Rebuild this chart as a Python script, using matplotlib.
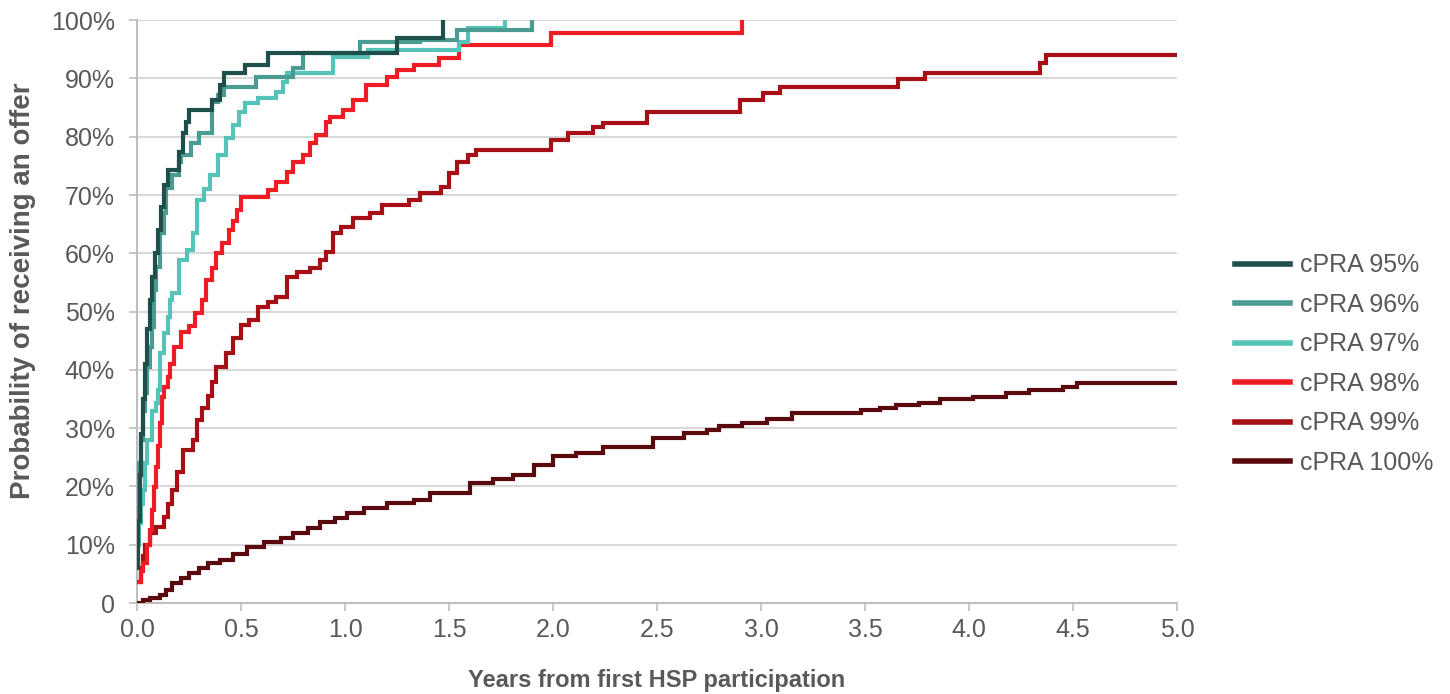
import matplotlib
matplotlib.use("Agg")
import matplotlib.pyplot as plt
from matplotlib.ticker import FixedLocator

plt.rcParams['font.family'] = ['Liberation Sans', 'DejaVu Sans']

# step breakpoints (years, % offered)
cpra95_t = [0, 0.005, 0.012, 0.02, 0.03, 0.04, 0.05, 0.06, 0.07, 0.085, 0.1, 0.115,
            0.13, 0.15, 0.2, 0.22, 0.235, 0.25, 0.36, 0.40, 0.42, 0.52, 0.63, 1.25, 1.47]
cpra95_p = [6, 14, 22, 29, 35, 41, 47, 52, 56, 60, 64, 68,
            71.7, 74.3, 77.4, 80.6, 82.5, 84.6, 86.3, 88.9, 90.9, 92.3, 94.3, 97.0, 100]

cpra96_t = [0, 0.005, 0.01, 0.02, 0.03, 0.04, 0.05, 0.06, 0.07, 0.08, 0.09, 0.11, 0.13,
            0.14, 0.17, 0.2, 0.21, 0.26, 0.3, 0.36, 0.39, 0.42, 0.57, 0.75, 0.8, 1.07,
            1.36, 1.54, 1.9]
cpra96_p = [10, 18, 24, 28, 33, 36, 40.5, 44, 47.3, 53.7, 57.6, 63.5, 66.9,
            71.2, 73.4, 75.6, 76.8, 78.9, 80.6, 85.9, 87.1, 88.5, 90.2, 91.8, 94.3, 96.2,
            96.6, 98.3, 100]

cpra97_t = [0, 0.005, 0.01, 0.02, 0.03, 0.04, 0.05, 0.07, 0.09, 0.1, 0.11, 0.13, 0.15,
            0.16, 0.17, 0.2, 0.24, 0.27, 0.29, 0.32, 0.35, 0.39, 0.43, 0.46, 0.49, 0.52,
            0.58, 0.67, 0.7, 0.72, 0.94, 1.11, 1.55, 1.59, 1.77]
cpra97_p = [7, 10, 13.7, 17, 19.4, 24, 28, 33, 34.3, 36.5, 42.9, 46.3, 49,
            52, 53.2, 58.8, 60.5, 63.5, 69.1, 71, 73.4, 76.8, 79.8, 82, 84.2, 85.8,
            86.6, 87.7, 89.4, 90.9, 93.7, 94.9, 96.2, 98.6, 100]

cpra98_t = [0, 0.02, 0.03, 0.05, 0.06, 0.07, 0.08, 0.09, 0.1, 0.11, 0.12, 0.13, 0.15,
            0.16, 0.18, 0.21, 0.25, 0.28, 0.31, 0.33, 0.36, 0.38, 0.41, 0.44, 0.46, 0.48,
            0.5, 0.63, 0.67, 0.72, 0.75, 0.8, 0.83, 0.86, 0.91, 0.93, 0.99, 1.04, 1.1,
            1.2, 1.25, 1.33, 1.45, 1.55, 1.99, 2.91]
cpra98_p = [3.6, 5.5, 6.9, 10, 12.5, 16, 19.9, 23.3, 27, 30.9, 35.3, 37, 38.8,
            41, 44, 46.5, 47.5, 49.7, 52, 55.4, 57.5, 60, 61.7, 64, 65.5, 67.5,
            69.6, 70.8, 72.2, 73.9, 75.6, 76.8, 79, 80.3, 82.5, 83.4, 84.6, 86.3, 88.9,
            90.2, 91.4, 92.3, 93.5, 95.7, 97.8, 100]

cpra99_t = [0, 0.02, 0.03, 0.04, 0.06, 0.09, 0.13, 0.15, 0.17, 0.19, 0.22, 0.27, 0.29,
            0.31, 0.34, 0.36, 0.38, 0.43, 0.46, 0.5, 0.54, 0.58, 0.63, 0.67, 0.72, 0.77,
            0.83, 0.88, 0.91, 0.94, 0.98, 1.04, 1.12, 1.18, 1.31, 1.36, 1.46, 1.5, 1.54,
            1.59, 1.63, 1.99, 2.07, 2.19, 2.24, 2.45, 2.9, 3.01, 3.09, 3.66, 3.79, 4.34,
            4.37, 5.0]
cpra99_p = [3.6, 6, 8, 10, 12, 13, 14.8, 17, 19.4, 22.5, 26.2, 28, 31.4,
            33.5, 35.5, 38, 40.5, 42.9, 45.5, 47.7, 48.5, 50.8, 51.6, 52.5, 56, 56.8,
            57.5, 58.8, 60.2, 63.4, 64.5, 66, 66.9, 68.3, 69.1, 70.3, 71.4, 73.8, 75.6,
            76.8, 77.7, 79.4, 80.6, 81.6, 82.3, 84.2, 86.3, 87.5, 88.5, 89.9, 90.9, 92.6,
            94, 94]

cpra100_t = [0, 0.03, 0.06, 0.11, 0.14, 0.17, 0.21, 0.25, 0.3, 0.34, 0.4, 0.46, 0.53,
             0.61, 0.69, 0.75, 0.82, 0.88, 0.95, 1.01, 1.09, 1.2, 1.33, 1.41, 1.6, 1.71,
             1.81, 1.91, 2.0, 2.11, 2.24, 2.48, 2.63, 2.74, 2.8, 2.91, 3.03, 3.15, 3.48,
             3.57, 3.65, 3.76, 3.86, 4.02, 4.18, 4.29, 4.45, 4.52, 5.0]
cpra100_p = [0, 0.5, 0.9, 1.4, 2.3, 3.4, 4.3, 5.1, 6, 6.8, 7.4, 8.5, 9.6,
             10.5, 11.1, 12, 12.9, 13.9, 14.6, 15.4, 16.3, 17.1, 17.7, 18.9, 20.6, 21.3,
             22, 23.7, 25.2, 25.7, 26.8, 28.3, 29.2, 29.7, 30.4, 30.9, 31.5, 32.6, 33.1,
             33.4, 34.0, 34.3, 35, 35.3, 36, 36.5, 37, 37.7, 37.7]

labels = ['cPRA 95%', 'cPRA 96%', 'cPRA 97%', 'cPRA 98%', 'cPRA 99%', 'cPRA 100%']
colors = ['#1f4f4b', '#4a9b92', '#55c3b8', '#ee1c25', '#a50f15', '#5a0a0e']
series = [(cpra95_t, cpra95_p), (cpra96_t, cpra96_p), (cpra97_t, cpra97_p),
          (cpra98_t, cpra98_p), (cpra99_t, cpra99_p), (cpra100_t, cpra100_p)]

x_ticks = [0, 0.5, 1.0, 1.5, 2.0, 2.5, 3.0, 3.5, 4.0, 4.5, 5.0]
y_ticks = [0, 10, 20, 30, 40, 50, 60, 70, 80, 90, 100]
y_ticklabels = ['0', '10%', '20%', '30%', '40%', '50%', '60%', '70%', '80%', '90%', '100%']

grey = '#595959'
fig = plt.figure(figsize=(14.5, 6.94), dpi=100)
ax = fig.add_axes([0.0945, 0.131, 0.7172, 0.840])

for i, ((t, p), lab, col) in enumerate(zip(series, labels, colors)):
    ax.step(t, p, where='post', color=col, lw=3.0, label=lab, zorder=10 - i,
            solid_joinstyle='miter')

ax.set_xlim(0, 5)
ax.set_ylim(0, 100)
ax.xaxis.set_major_locator(FixedLocator(x_ticks))
ax.set_xticklabels(['%.1f' % v for v in x_ticks])
ax.set_yticks(y_ticks)
ax.set_yticklabels(y_ticklabels)
ax.tick_params(axis='both', colors='#bfbfbf', labelcolor=grey, labelsize=18, length=6, width=1.2)
ax.tick_params(axis='y', pad=10)
ax.tick_params(axis='x', pad=5)
ax.grid(axis='y', color='#d9d9d9', lw=1.5)
ax.set_axisbelow(True)
for s in ['top', 'right']:
    ax.spines[s].set_visible(False)
for s in ['left', 'bottom']:
    ax.spines[s].set_color('#bfbfbf')
    ax.spines[s].set_linewidth(1.5)

ax.set_xlabel('Years from first HSP participation', fontsize=17, fontweight='bold',
              color=grey, labelpad=19)
ax.set_ylabel('Probability of receiving an offer', fontsize=20, fontweight='bold',
              color=grey)
ax.yaxis.set_label_coords(-0.097, 0.535)

leg = fig.legend(loc='center left', bbox_to_anchor=(0.836, 0.4755), frameon=False,
                 fontsize=18, handlelength=2.2, handletextpad=0.4, labelspacing=0.62)
for h in leg.get_lines():
    h.set_linewidth(4)
for txt in leg.get_texts():
    txt.set_color(grey)

fig.savefig('out.png', dpi=100)
